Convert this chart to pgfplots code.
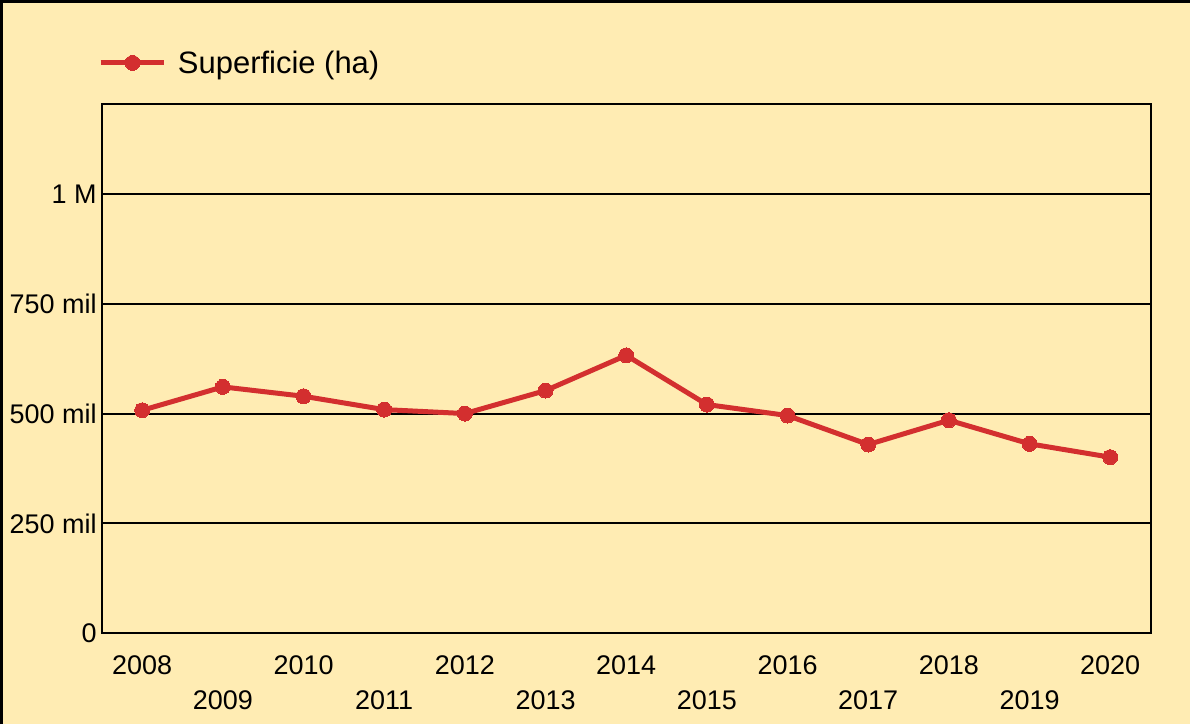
\documentclass[border=0pt]{standalone}
\usepackage{pgfplots}
\pgfplotsset{compat=1.18}
\usepackage{fontspec}
\setmainfont{Liberation Sans}
\definecolor{bgyellow}{HTML}{FFECB3}
\definecolor{linered}{HTML}{D32F2F}

\begin{document}
\begin{tikzpicture}
\fill[bgyellow] (0,0) rectangle (1191bp,725bp);
\draw[black, line width=3bp] (1.5bp,0) -- (1.5bp,723.5bp) -- (1191bp,723.5bp);
\begin{axis}[
    at={(102bp,91bp)}, anchor=south west,
    width=1050bp, height=530bp, scale only axis,
    xmin=2007.5, xmax=2020.5,
    ymin=0, ymax=1205000,
    xtick={2008,2010,2012,2014,2016,2018,2020},
    xticklabels={2008,2010,2012,2014,2016,2018,2020},
    extra x ticks={2009,2011,2013,2015,2017,2019},
    extra x tick labels={2009,2011,2013,2015,2017,2019},
    extra x tick style={grid=none, xticklabel style={yshift=-35bp}},
    ytick={0,250000,500000,750000,1000000},
    yticklabels={0,250 mil,500 mil,750 mil,1 M},
    scaled y ticks=false,
    major tick length=0pt,
    ymajorgrids=true,
    grid style={black, line width=2bp},
    axis line style={black, line width=2bp},
    xticklabel style={anchor=north, inner sep=0pt, yshift=-22bp},
    yticklabel style={anchor=east, inner sep=0pt, xshift=-5bp},
    tick label style={font=\fontsize{27bp}{30bp}\selectfont},
    legend style={at={(0,1)}, anchor=west, xshift=-4bp, yshift=41bp,
        draw=none, fill=none, inner sep=0pt, nodes={inner sep=0pt},
        font=\fontsize{31bp}{36bp}\selectfont},
    legend cell align=left,
    legend image code/.code={\draw[#1, mark repeat=2, mark phase=2]
        plot coordinates {(0bp,0bp) (32bp,0bp) (64bp,0bp)};},
]
\addplot[color=linered, line width=5bp, mark=*, mark size=7.5bp,
    mark options={fill=linered, draw=linered, line width=0pt}]
    coordinates {
    (2008,507500)
    (2009,560700)
    (2010,539400)
    (2011,509000)
    (2012,500000)
    (2013,552300)
    (2014,632500)
    (2015,520500)
    (2016,495500)
    (2017,429500)
    (2018,484800)
    (2019,431100)
    (2020,400700)
    };
\addlegendentry{\hspace{11bp}Superficie (ha)}
\draw[black, line width=3bp] (rel axis cs:0,0) -- (rel axis cs:1,0);
\end{axis}
\end{tikzpicture}
\end{document}
